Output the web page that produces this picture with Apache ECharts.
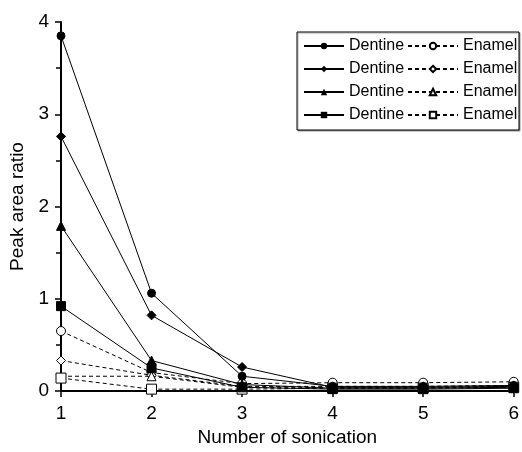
<!DOCTYPE html>
<html>
<head>
<meta charset="utf-8">
<script src="https://cdn.jsdelivr.net/npm/echarts@6/dist/echarts.min.js"></script>
<style>
  html, body { margin: 0; padding: 0; background: #fff; }
  #chart { width: 522px; height: 452px; }
</style>
</head>
<body>
<div id="chart"></div>
<script>
// x: number of sonication
var sonication = [1, 2, 3, 4, 5, 6];

// dentine (solid lines, filled markers)
var dentineCircle  = [3.85, 1.06, 0.16, 0.05, 0.05, 0.06];
var dentineDiamond = [2.76, 0.82, 0.26, 0.04, 0.04, 0.05];
var dentineTriangle = [1.79, 0.33, 0.07, 0.03, 0.03, 0.04];
var dentineSquare  = [0.92, 0.25, 0.04, 0.02, 0.02, 0.03];

// enamel (dashed lines, open markers)
var enamelCircle   = [0.65, 0.20, 0.08, 0.09, 0.09, 0.10];
var enamelDiamond  = [0.33, 0.17, 0.05, 0.05, 0.05, 0.06];
var enamelTriangle = [0.16, 0.16, 0.04, 0.04, 0.04, 0.05];
var enamelSquare   = [0.14, 0.02, 0.02, 0.03, 0.03, 0.04];

var yTicks = [0, 1, 2, 3, 4];

function pairs(vals) {
    return sonication.map(function (x, i) { return [x, vals[i]] })
}

function dentine(name, vals, symbol, size) {
    return {
        name: name, type: 'line', data: pairs(vals),
        symbol: symbol, symbolSize: size,
        lineStyle: { color: '#000', width: 1 },
        itemStyle: { color: '#000', borderColor: '#000' },
        z: 3
    }
}
function enamel(name, vals, symbol, size) {
    return {
        name: name, type: 'line', data: pairs(vals),
        symbol: symbol, symbolSize: size,
        lineStyle: { color: '#000', width: 1, type: [4, 3] },
        itemStyle: { color: '#fff', borderColor: '#000', borderWidth: 1 },
        z: 2
    }
}

var font = 'Liberation Sans, Arial, Helvetica, sans-serif';

var chart = echarts.init(document.getElementById('chart'));
chart.setOption({
    animation: false,
    grid: { left: 61, right: 1, top: 22, bottom: 60 },
    xAxis: {
        type: 'value', min: 1, max: 6, interval: 1,
        name: 'Number of sonication', nameLocation: 'middle', nameGap: 37,
        nameTextStyle: { fontFamily: font, fontSize: 19, color: '#000' },
        axisLine: { onZero: false, lineStyle: { color: '#000', width: 2 } },
        axisTick: { length: 6, lineStyle: { color: '#000', width: 1.5 } },
        axisLabel: { fontFamily: font, fontSize: 19, color: '#000', margin: 13 },
        splitLine: { show: false }
    },
    yAxis: {
        type: 'value', min: 0, max: 4, interval: 1,
        name: 'Peak area ratio', nameLocation: 'middle', nameGap: 29,
        nameTextStyle: { fontFamily: font, fontSize: 19, color: '#000' },
        axisLine: { show: true, lineStyle: { color: '#000', width: 2 } },
        axisTick: { show: true, length: 6, lineStyle: { color: '#000', width: 1.5 } },
        minorTick: { show: true, splitNumber: 2, length: 5, lineStyle: { color: '#000', width: 1.5 } },
        axisLabel: {
            fontFamily: font, fontSize: 19, color: '#000', margin: 12,
            formatter: function (v) { return yTicks.indexOf(v) >= 0 ? String(v) : '' }
        },
        splitLine: { show: false }
    },
    graphic: [{
        type: 'rect',
        shape: { x: 297, y: 32, width: 222, height: 98 },
        style: { fill: '#fff', stroke: '#000', lineWidth: 1, shadowColor: 'rgba(0,0,0,0.35)', shadowOffsetX: 1, shadowOffsetY: 1, shadowBlur: 1 },
        z: 10
    }],
    legend: [{
        orient: 'vertical', left: 298, top: 32,
        itemWidth: 40, itemHeight: 8, itemGap: 5,
        data: ['D1', 'D2', 'D3', 'D4'],
        formatter: function () { return 'Dentine' },
        textStyle: { fontFamily: font, fontSize: 16, lineHeight: 18, color: '#000' },
        z: 20
    }, {
        orient: 'vertical', left: 402, top: 32,
        itemWidth: 50, itemHeight: 8, itemGap: 5,
        data: ['E1', 'E2', 'E3', 'E4'],
        formatter: function () { return 'Enamel' },
        textStyle: { fontFamily: font, fontSize: 16, lineHeight: 18, color: '#000' },
        z: 20
    }],
    series: [
        dentine('D1', dentineCircle, 'circle', 8),
        dentine('D2', dentineDiamond, 'diamond', 9),
        dentine('D3', dentineTriangle, 'triangle', 9),
        dentine('D4', dentineSquare, 'rect', 9),
        enamel('E1', enamelCircle, 'circle', 9),
        enamel('E2', enamelDiamond, 'diamond', 9),
        enamel('E3', enamelTriangle, 'triangle', 9),
        enamel('E4', enamelSquare, 'rect', 10)
    ]
});
</script>
</body>
</html>
